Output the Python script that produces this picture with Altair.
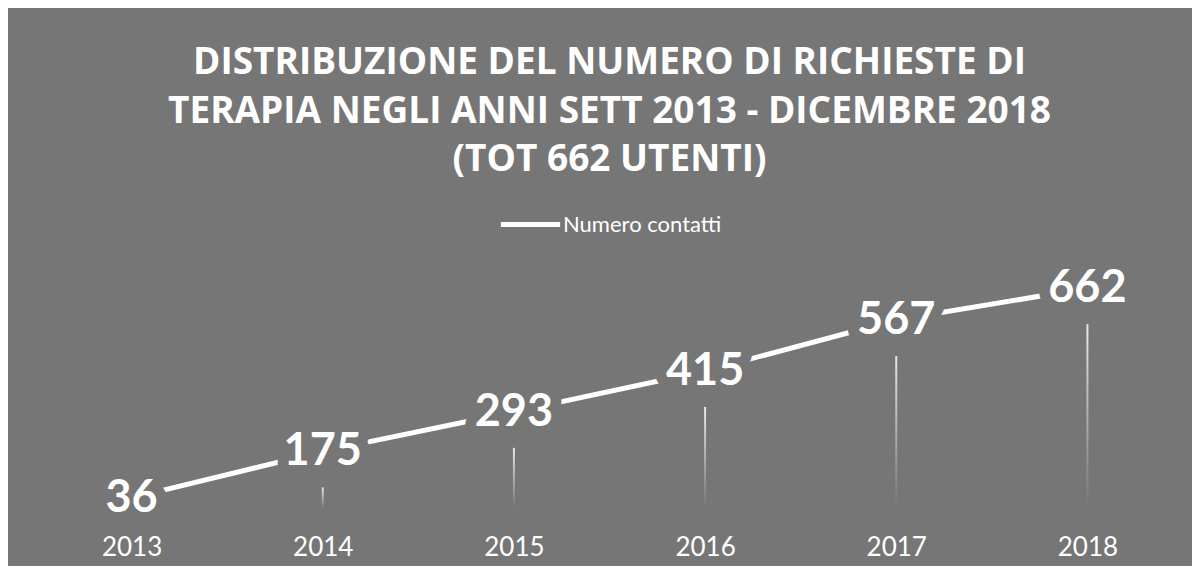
import altair as alt
import pandas as pd

anni = ["2013", "2014", "2015", "2016", "2017", "2018"]
contatti = [36, 175, 293, 415, 567, 662]
serie = ["Numero contatti"] * 6
titolo = [
    "DISTRIBUZIONE DEL NUMERO DI RICHIESTE DI",
    "TERAPIA NEGLI ANNI SETT 2013 - DICEMBRE 2018",
    "(TOT 662 UTENTI)",
]

BG = "#767676"
df = pd.DataFrame({"anno": anni, "contatti": contatti, "serie": serie})

x_enc = alt.X(
    "anno:O",
    scale=alt.Scale(type="point", padding=0.5),
    axis=alt.Axis(
        orient="bottom", domain=False, ticks=False, grid=False, title=None,
        labelAngle=0, labelFont="Lato", labelFontSize=26, labelColor="white",
        labelPadding=24,
    ),
)
y_enc = alt.Y("contatti:Q", scale=alt.Scale(domain=[0, 800]), axis=None)

base = alt.Chart(df).encode(x=x_enc, y=y_enc)

gradient = {
    "gradient": "linear", "x1": 0, "y1": 0, "x2": 0, "y2": 1,
    "stops": [{"offset": 0, "color": "#e8e8e8"}, {"offset": 1, "color": BG}],
}

drop = base.mark_bar(size=2, yOffset=36, y2Offset=-2, color=gradient).encode(
    y2=alt.datum(0),
    opacity=alt.condition("datum.contatti > 120", alt.value(1), alt.value(0)),
)

line = base.mark_line(strokeWidth=5, strokeCap="butt").encode(
    color=alt.Color(
        "serie:N",
        scale=alt.Scale(range=["white"]),
        legend=alt.Legend(
            title=None, orient="none", legendX=462, legendY=-50,
            symbolType="stroke", symbolSize=3518, symbolStrokeWidth=5,
            labelFont="Lato", labelFontSize=22, labelColor="white",
            labelOffset=0, padding=0,
        ),
    )
)

label_bg = base.mark_text(
    font="Lato", fontSize=45, fontWeight="bold", stroke=BG, strokeWidth=22,
    strokeJoin="round", fill=BG, baseline="middle", align="center",
).encode(text="contatti:Q")

label = base.mark_text(
    font="Lato", fontSize=45, fontWeight="bold", color="white",
    baseline="middle", align="center",
).encode(text="contatti:Q")

chart = alt.layer(drop, line, label_bg, label).properties(
    width=1147,
    height=268,
    background=BG,
    autosize=alt.AutoSizeParams(type="none"),
    padding={"left": 28, "top": 234, "right": 9, "bottom": 56},
    title=alt.TitleParams(
        text=titolo, font="Open Sans", fontSize=37, fontWeight="bold",
        color="white", anchor="middle", lineHeight=48.5, offset=0, dy=-13,
    ),
).configure_view(strokeWidth=0)

chart.save("out.html", embed_options={"renderer": "svg", "actions": False})
